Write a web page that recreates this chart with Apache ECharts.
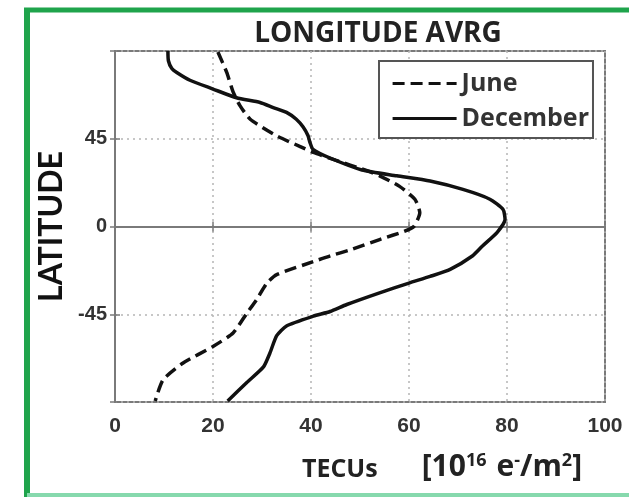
<!DOCTYPE html>
<html>
<head>
<meta charset="utf-8">
<script src="https://cdn.jsdelivr.net/npm/echarts@6/dist/echarts.min.js"></script>
<style>
  html, body { margin: 0; padding: 0; background: #fff; }
  #chart { width: 629px; height: 497px; }
</style>
</head>
<body>
<div id="chart"></div>
<script>
// Zonal mean total electron content versus latitude
const latTicks = [-45, 0, 45];
const tecTicks = [0, 20, 40, 60, 80, 100];

// June profile: [TEC, latitude]
const juneTec = [21, 22.8, 24.1, 25.5, 27.6, 33, 37.8, 40.5, 45, 51, 54, 58, 61.2, 62.2, 61, 59, 54, 48, 44, 40.5, 33, 31, 28.9, 26.9, 24.1, 20, 13.9, 9.8, 8.2];
const juneLat = [89.5, 79, 69, 62, 55, 46.5, 41, 38, 34, 29, 26, 20.7, 14, 7, 0, -2.5, -6.7, -12, -15, -18, -24.7, -29, -37.5, -44.5, -54.6, -61.5, -70, -78.7, -89.5];

// December profile: [TEC, latitude]
const decTec = [10.8, 10.9, 11.6, 12.6, 15.3, 20, 24.8, 29.6, 32.3, 35, 37, 38.4, 39.4, 39.8, 40.4, 44, 50.4, 57.5, 64.3, 71, 76.5, 79.2, 79.6, 78, 75, 73, 68.4, 64.3, 60, 54, 47.3, 43.9, 40.5, 35, 33, 31.6, 30.3, 26.9, 23];
const decLat = [90, 85, 81, 79, 75, 70.5, 66, 63.6, 61, 58.5, 55, 51, 46.5, 43, 39.6, 35, 29, 26, 23.3, 19, 14, 8.7, 3.6, -3, -10, -15, -22, -25.6, -29, -34, -40, -43.6, -46, -51, -56, -65, -72, -80, -89.5];

const pair = (xs, ys) => xs.map((x, i) => [x, ys[i]]);

const chart = echarts.init(document.getElementById('chart'), null, { renderer: 'canvas' });

const FONT = 'Open Sans';
const gridStyle = { show: true, lineStyle: { color: '#b5b5b5', width: 1.5, type: [2, 4] } };
const frameLine = { show: true, lineStyle: { color: '#7a7a7a', width: 2 } };
const inTick = { show: true, inside: true, length: 5, lineStyle: { color: '#7a7a7a', width: 1.5 } };

chart.setOption({
  backgroundColor: '#ffffff',
  animation: false,
  title: {
    text: 'LONGITUDE AVRG',
    left: 373, top: 15, textAlign: 'center',
    textStyle: { fontFamily: FONT, fontWeight: 'bold', fontSize: 28, color: '#222' }
  },
  legend: {
    left: 379, top: 61,
    orient: 'vertical',
    backgroundColor: '#fff',
    borderColor: '#555', borderWidth: 2,
    padding: [10, 4, 7, 12],
    itemWidth: 64, itemHeight: 16, itemGap: 10,
    // keys show only the line, no marker
    itemStyle: { opacity: 0 },
    lineStyle: { width: 3.2 },
    textStyle: { fontFamily: FONT, fontWeight: 'bold', fontSize: 25, color: '#333' },
    data: ['June', 'December']
  },
  grid: {
    left: 115, right: 24, top: 51, bottom: 95,
    show: true, borderColor: '#7a7a7a', borderWidth: 2
  },
  xAxis: [{
    type: 'value', min: 0, max: 100, interval: 20,
    axisLine: frameLine, axisTick: inTick, splitLine: gridStyle,
    axisLabel: {
      margin: 14, fontFamily: 'Liberation Sans', fontWeight: 'bold', fontSize: 21, color: '#333',
      formatter: v => tecTicks.includes(v) ? String(v) : ''
    },
    name: '{b|TECUs}{lb|[10}{s|16}{e|e}{s|-}{c|/m}{s|2}{c|]}',
    nameLocation: 'middle', nameGap: 50,
    nameTextStyle: {
      padding: [0, 0, 0, 164],
      rich: {
        b: { fontFamily: FONT, fontWeight: 'bold', fontSize: 25, color: '#222', verticalAlign: 'bottom', lineHeight: 30 },
        lb: { fontFamily: FONT, fontWeight: 'bold', fontSize: 30, color: '#222', verticalAlign: 'bottom', lineHeight: 30, padding: [0, 0, 0, 44] },
        c: { fontFamily: FONT, fontWeight: 'bold', fontSize: 30, color: '#222', verticalAlign: 'bottom', lineHeight: 30 },
        e: { fontFamily: FONT, fontWeight: 'bold', fontSize: 30, color: '#222', verticalAlign: 'bottom', lineHeight: 30, padding: [0, 0, 0, 10] },
        s: { fontFamily: FONT, fontWeight: 'bold', fontSize: 18, color: '#222', verticalAlign: 'top', lineHeight: 30 }
      }
    }
  }, {
    type: 'value', min: 0, max: 100, interval: 20, position: 'top',
    axisLine: frameLine, axisTick: inTick, splitLine: { show: false }, axisLabel: { show: false }
  }],
  yAxis: [{
    type: 'value', min: -90, max: 90, interval: 45,
    axisLine: frameLine, axisTick: inTick, splitLine: gridStyle,
    axisLabel: {
      margin: 8, fontFamily: 'Liberation Sans', fontWeight: 'bold', fontSize: 20, color: '#333',
      formatter: v => latTicks.includes(v) ? String(v) : ''
    },
    name: 'LATITUDE', nameLocation: 'middle', nameGap: 44,
    nameTextStyle: { fontFamily: 'Lato', fontWeight: 'bold', fontSize: 32, color: '#111' }
  }, {
    type: 'value', min: -90, max: 90, interval: 45, position: 'right',
    axisLine: frameLine, axisTick: inTick, splitLine: { show: false }, axisLabel: { show: false }
  }],
  series: [{
    name: 'June', type: 'line', symbol: 'none', smooth: 0.2,
    data: pair(juneTec, juneLat),
    lineStyle: { color: '#111', width: 3.5, type: [12, 6] },
    itemStyle: { color: '#111' }
  }, {
    name: 'December', type: 'line', symbol: 'none', smooth: 0.2,
    data: pair(decTec, decLat),
    lineStyle: { color: '#111', width: 3.5 },
    itemStyle: { color: '#111' }
  }],
  graphic: [
    { type: 'line', shape: { x1: 27, y1: 10, x2: 27, y2: 497 }, style: { stroke: '#1fa44c', lineWidth: 6 }, silent: true },
    { type: 'line', shape: { x1: 24, y1: 10, x2: 629, y2: 10 }, style: { stroke: '#1fa44c', lineWidth: 5 }, silent: true },
    { type: 'line', shape: { x1: 27, y1: 495, x2: 629, y2: 495 }, style: { stroke: '#86d9ad', lineWidth: 4 }, silent: true }
  ]
});
</script>
</body>
</html>
